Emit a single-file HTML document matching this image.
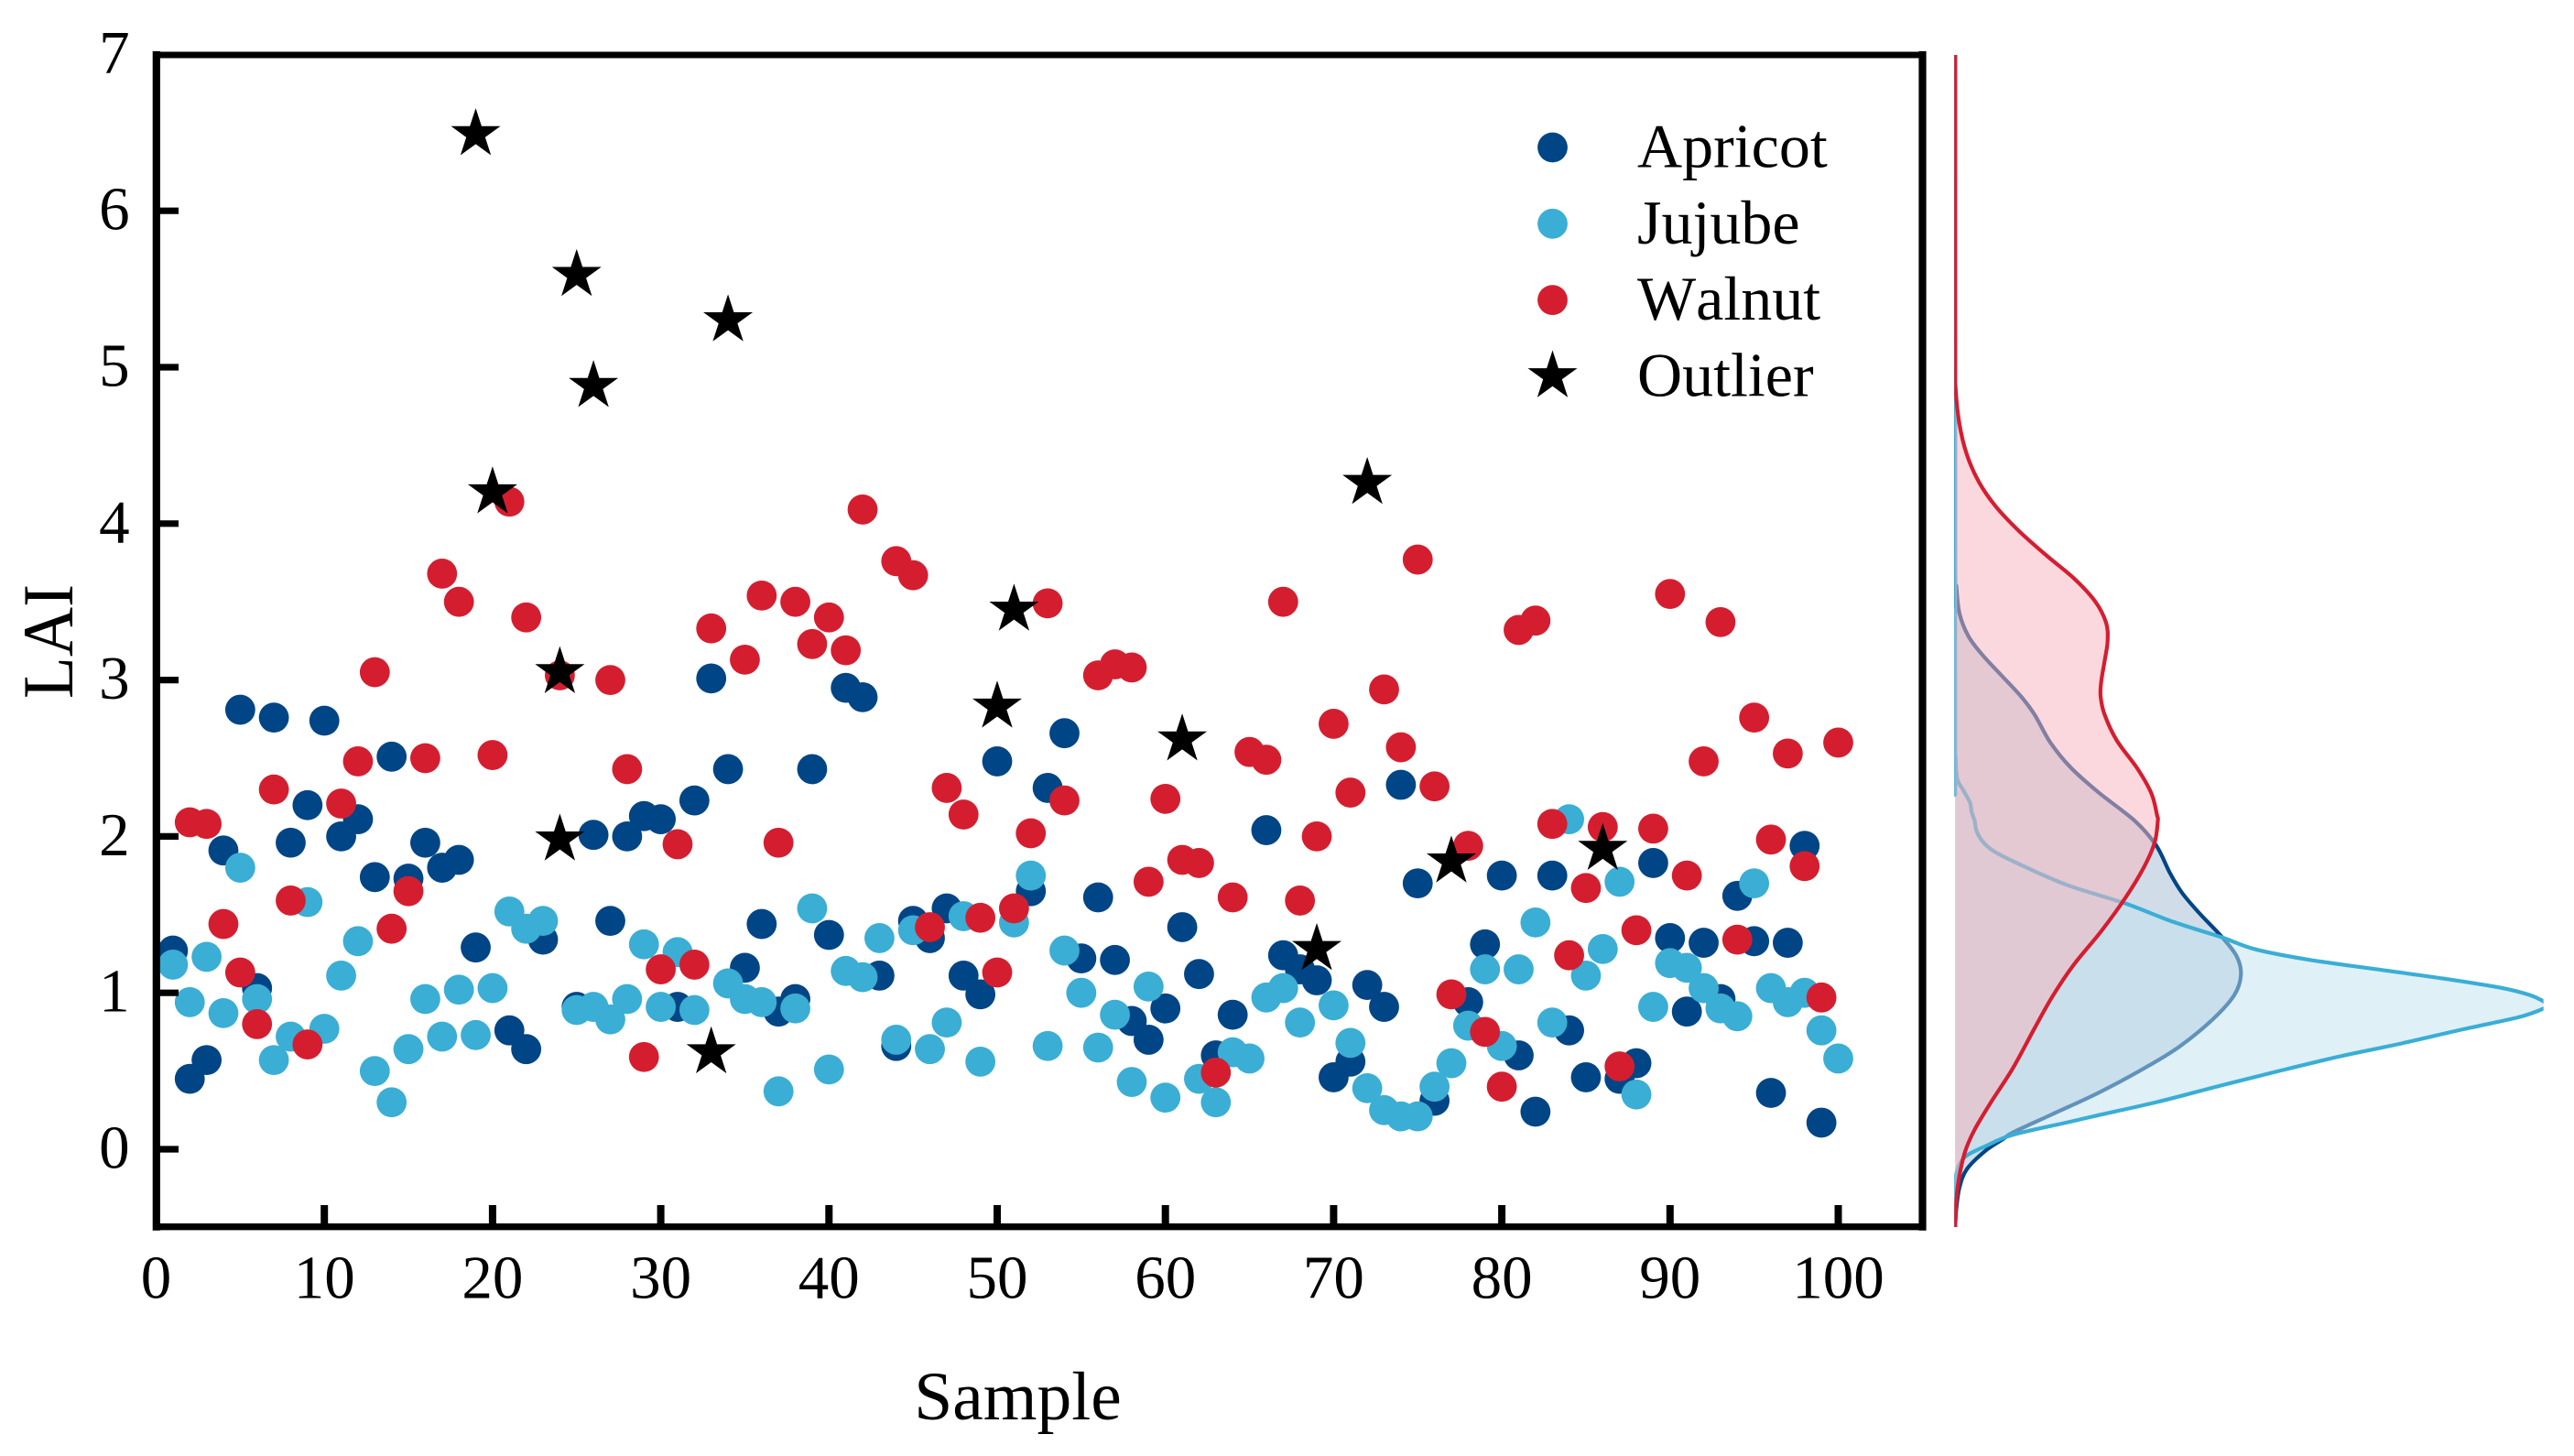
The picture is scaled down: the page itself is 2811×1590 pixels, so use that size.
<!DOCTYPE html>
<html lang="en">
<head>
<meta charset="utf-8">
<title>LAI scatter with marginal density</title>
<style>
html,body{margin:0;padding:0;background:#fff;}
svg{display:block;}
text{font-family:"Liberation Serif",serif;fill:#000;font-kerning:none;}
</style>
</head>
<body>
<svg id="chart" xmlns="http://www.w3.org/2000/svg" width="2811" height="1590" viewBox="0 0 2811 1590">
  <defs>
    <clipPath id="kde-clip"><rect x="2134.2" y="60" width="643.5" height="1280"></rect></clipPath>
  </defs>
  <g id="marks"></g>
  <g id="axes"></g>
  <g id="kde" clip-path="url(#kde-clip)"></g>
  <text x="1111.5" y="1550" font-size="75.5" text-anchor="middle">Sample</text>
  <text transform="translate(79,700.5) rotate(-90) scale(1,1.04)" font-size="75" text-anchor="middle">LAI</text>
  <g id="legend"></g>
</svg>
<script>
const xTickValues = [0,10,20,30,40,50,60,70,80,90,100];
const xTickLabels = ["0","10","20","30","40","50","60","70","80","90","100"];
const yTickValues = [0,1,2,3,4,5,6,7];
const yTickLabels = ["0","1","2","3","4","5","6","7"];

const apricotValues = [
1.27,.45,.57,1.91,2.81,1.03,2.76,1.96,2.20,2.74,
2.00,2.11,1.74,2.51,1.73,1.96,1.80,1.85,1.29,null,
.76,.64,1.34,null,.91,2.01,1.46,2.00,2.13,2.11,
.91,2.23,3.01,2.43,1.16,1.44,.88,.96,2.43,1.37,
2.95,2.89,1.11,.66,1.46,1.35,1.54,1.11,.99,2.48,
null,1.65,2.31,2.66,1.22,1.61,1.21,.82,.70,.90,
1.42,1.12,.60,.86,null,2.04,1.24,1.15,1.08,.46,
.56,1.05,.91,2.33,1.70,.31,null,.94,1.31,1.75,
.60,.24,1.75,.76,.46,null,.45,.55,1.83,1.35,
.88,1.32,.96,1.62,1.33,.36,1.32,1.94,.17,null];

const jujubeValues = [
1.18,.94,1.23,.87,1.80,.96,.57,.72,1.58,.77,
1.11,1.33,.50,.30,.64,.96,.72,1.02,.73,1.03,
1.52,1.41,1.46,null,.89,.91,.83,.96,1.31,.91,
1.26,.89,null,1.06,.96,.94,.37,.90,1.54,.51,
1.14,1.10,1.35,.70,1.40,.64,.81,1.49,.56,null,
1.45,1.75,.66,1.27,1.00,.65,.86,.43,1.04,.33,
null,.45,.30,.62,.58,.97,1.03,.81,null,.92,
.68,.39,.25,.21,.21,.40,.55,.79,1.15,.66,
1.15,1.45,.81,2.11,1.11,1.28,1.71,.35,.91,1.19,
1.16,1.03,.90,.85,1.70,1.03,.94,1.00,.76,.58];

const walnutValues = [
null,2.09,2.08,1.44,1.13,.80,2.30,1.59,.67,null,
2.21,2.48,3.05,1.41,1.65,2.50,3.68,3.50,null,2.52,
4.14,3.40,null,3.03,null,null,3.00,2.43,.59,1.15,
1.95,1.18,3.33,null,3.13,3.54,1.96,3.50,3.23,3.40,
3.19,4.09,null,3.76,3.67,1.42,2.31,2.14,1.48,1.13,
1.54,2.02,3.49,2.23,null,3.03,3.10,3.08,1.71,2.24,
1.85,1.83,.49,1.61,2.54,2.49,3.50,1.59,2.00,2.72,
2.28,null,2.94,2.57,3.77,2.32,.99,1.94,.75,.40,
3.32,3.38,2.08,1.24,1.67,2.06,.53,1.40,2.05,3.55,
1.75,2.48,3.37,1.34,2.76,1.98,2.53,1.81,.97,2.60];

const outlierSamples = [19,20,24,24,25,26,33,34,50,51,61,69,72,77,86];
const outlierValues = [6.49,4.20,3.05,1.98,5.59,4.88,.62,5.30,2.83,3.45,2.62,1.28,4.26,1.84,1.92];

const apricotKdeLai = [7,3.757,3.60,3.425,3.279,3.162,3.035,2.898,2.781,2.596,2.44,2.283,2.098,1.942,1.766,1.639,1.512,1.356,1.23,1.112,.985,.83,.654,.517,.36,.224,.107,.068,-.01,-.127,-.244,-.38,-.5];
const apricotKdeDensity = [0,0,.003,.011,.034,.069,.116,.167,.202,.244,.295,.365,.459,.513,.548,.579,.622,.681,.719,.729,.712,.657,.571,.482,.365,.248,.147,.124,.077,.03,.011,.003,0];

const jujubeKdeLai = [7,2.62,2.51,2.37,2.29,2.215,2.156,2.098,2.039,1.971,1.903,1.815,1.688,1.57,1.454,1.356,1.278,1.21,1.142,1.087,1.03,.985,.947,.923,.898,.843,.767,.677,.595,.502,.404,.303,.215,.172,.092,.019,-.039,-.098,-.186,-.30,-.5];
const jujubeKdeDensity = [0,0,.001,.005,.022,.038,.042,.05,.054,.069,.10,.17,.287,.436,.556,.679,.766,.906,1.101,1.257,1.397,1.467,1.50,1.513,1.50,1.436,1.296,1.14,.984,.829,.673,.517,.361,.287,.147,.077,.03,.011,.001,0,0];

const walnutKdeLai = [7,5.12,4.87,4.635,4.44,4.264,4.108,3.952,3.796,3.65,3.503,3.367,3.25,3.132,2.996,2.898,2.781,2.615,2.43,2.273,2.137,2.098,1.961,1.805,1.61,1.395,1.181,.976,.771,.517,.303,.127,-.01,-.166,-.322,-.5];
const walnutKdeDensity = [0,0,.001,.011,.03,.061,.104,.163,.233,.303,.357,.385,.389,.382,.373,.371,.381,.412,.466,.501,.515,.517,.509,.482,.435,.373,.303,.248,.202,.147,.092,.05,.026,.011,.003,0];

const legendLabels = ["Apricot","Jujube","Walnut","Outlier"];

const NS = "http://www.w3.org/2000/svg";
const COLORS = {apricot:"#004585", jujube:"#3aaed5", walnut:"#d41e30"};

function xScale(v){ return 170.5 + v * 18.37; }
function yScale(v){ return 1255 - v * 170.8; }
function densityScale(d){ return 2135.2 + d * 428; }

function mk(tag, attrs, parent){
  const el = document.createElementNS(NS, tag);
  for (const k in attrs) el.setAttribute(k, attrs[k]);
  parent.appendChild(el);
  return el;
}
function starPoints(cx, cy, R){
  const pts = [];
  for (let i = 0; i < 10; i++){
    const r = i % 2 ? R * 0.382 : R;
    const a = -Math.PI / 2 + i * Math.PI / 5;
    pts.push((cx + r * Math.cos(a)).toFixed(2) + "," + (cy + r * Math.sin(a)).toFixed(2));
  }
  return pts.join(" ");
}
function smoothPath(pts){
  let d = "M" + pts[0][0].toFixed(2) + " " + pts[0][1].toFixed(2);
  for (let i = 0; i < pts.length - 1; i++){
    const p0 = pts[Math.max(i - 1, 0)], p1 = pts[i], p2 = pts[i + 1], p3 = pts[Math.min(i + 2, pts.length - 1)];
    const c1x = p1[0] + (p2[0] - p0[0]) / 6, c1y = p1[1] + (p2[1] - p0[1]) / 6;
    const c2x = p2[0] - (p3[0] - p1[0]) / 6, c2y = p2[1] - (p3[1] - p1[1]) / 6;
    d += "C" + c1x.toFixed(2) + " " + c1y.toFixed(2) + " " + c2x.toFixed(2) + " " + c2y.toFixed(2) + " " + p2[0].toFixed(2) + " " + p2[1].toFixed(2);
  }
  return d;
}

const marksG = document.getElementById("marks");
const axesG = document.getElementById("axes");
const kdeG = document.getElementById("kde");
const legendG = document.getElementById("legend");

function drawSeries(name, values, color){
  values.forEach(function(v, i){
    if (v === null) return;
    const c = mk("circle", {cx: xScale(i + 1), cy: yScale(v), r: 16.4, fill: color}, marksG);
    
    
  });
}
drawSeries("apricot", apricotValues, COLORS.apricot);
drawSeries("jujube", jujubeValues, COLORS.jujube);
drawSeries("walnut", walnutValues, COLORS.walnut);
outlierValues.forEach(function(v, i){
  const s = mk("polygon", {points: starPoints(xScale(outlierSamples[i]), yScale(v), 28.4), fill: "#000"}, marksG);
  
  
});

xTickValues.forEach(function(v, i){
  if (v > 0){
    const t = mk("line", {x1: xScale(v), x2: xScale(v), y1: 1340, y2: 1316, stroke: "#000", "stroke-width": 8}, axesG);
    
    
  }
  const l = mk("text", {x: xScale(v), y: 1417.5, "font-size": 67, "text-anchor": "middle"}, axesG);
  l.textContent = xTickLabels[i];
  
  
});
yTickValues.forEach(function(v, i){
  if (v < 7){
    const t = mk("line", {x1: 170.5, x2: 195, y1: yScale(v), y2: yScale(v), stroke: "#000", "stroke-width": 7.2}, axesG);
    
    
  }
  const l = mk("text", {x: 141.6, y: yScale(v) + 20.5, "font-size": 67, "text-anchor": "end"}, axesG);
  l.textContent = yTickLabels[i];
  
  
});
const spines = [
  {name: "left-spine", x1: 170.8, y1: 60, x2: 170.8, y2: 1339.7, w: 8.2},
  {name: "right-spine", x1: 2099.5, y1: 60, x2: 2099.5, y2: 1339.7, w: 8.2},
  {name: "top-spine", x1: 170.8, y1: 60, x2: 2099.5, y2: 60, w: 7},
  {name: "bottom-spine", x1: 170.8, y1: 1339.7, x2: 2099.5, y2: 1339.7, w: 7.3}
];
spines.forEach(function(s){
  const ln = mk("line", {x1: s.x1, y1: s.y1, x2: s.x2, y2: s.y2, stroke: "#000", "stroke-width": s.w, "stroke-linecap": "square"}, axesG);
  
  
});

function drawKde(name, lai, density, lineColor, fillColor, fillAlpha){
  const pts = lai.map(function(v, i){ return [densityScale(density[i]), yScale(v)]; });
  const line = smoothPath(pts);
  const base = "L" + densityScale(0) + " " + yScale(lai[lai.length - 1]) + "L" + densityScale(0) + " " + yScale(lai[0]) + "Z";
  const f = mk("path", {d: line + base, fill: fillColor, "fill-opacity": fillAlpha, stroke: "none"}, kdeG);
  
  
  const s = mk("path", {d: line, fill: "none", stroke: lineColor, "stroke-width": 4.2}, kdeG);
  
  
}
drawKde("apricot", apricotKdeLai, apricotKdeDensity, COLORS.apricot, "rgb(161,187,211)", 0.5);
drawKde("jujube", jujubeKdeLai, jujubeKdeDensity, COLORS.jujube, "rgb(194,226,240)", 0.5);
drawKde("walnut", walnutKdeLai, walnutKdeDensity, COLORS.walnut, "rgb(248,181,190)", 0.52);

const legendColors = [COLORS.apricot, COLORS.jujube, COLORS.walnut];
legendLabels.forEach(function(label, i){
  const cy = 161 + i * 83.3;
  if (i < 3){
    const m = mk("circle", {cx: 1695.5, cy: cy, r: 16.4, fill: legendColors[i]}, legendG);
    
    
  } else {
    const m = mk("polygon", {points: starPoints(1695.5, cy, 28.4), fill: "#000"}, legendG);
    
    
  }
  const t = mk("text", {x: 1788, y: cy + 21.5, "font-size": 68}, legendG);
  t.textContent = label;
  
  
});
</script>
</body>
</html>
